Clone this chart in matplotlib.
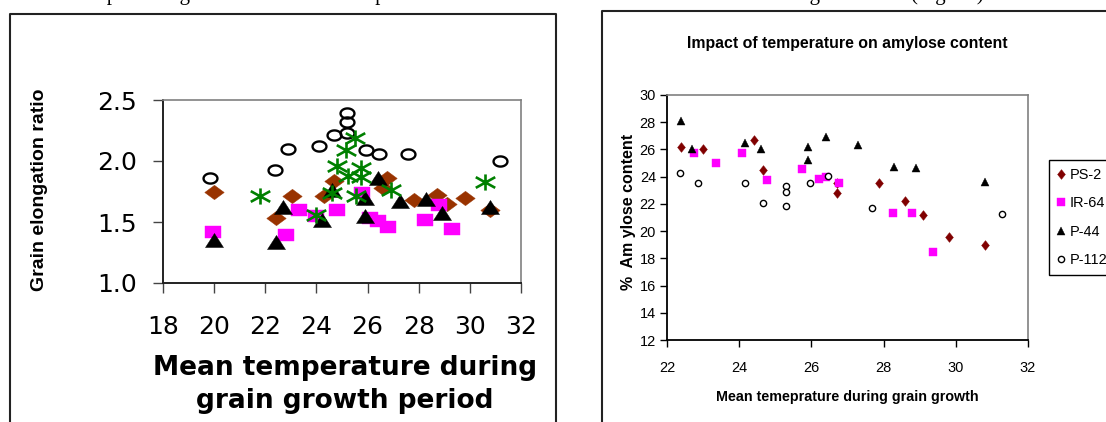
import numpy as np
import matplotlib
matplotlib.use("Agg")
import matplotlib.pyplot as plt
from matplotlib.path import Path
from matplotlib.lines import Line2D
from matplotlib import font_manager

# ---------------- data: left chart (grain elongation ratio) ----------------
ps2_t = [19.99, 22.4, 23.05, 24.3, 24.7, 26.6, 26.77, 27.8, 28.7, 29.1, 29.8, 30.8]
ps2_r = [1.75, 1.53, 1.71, 1.71, 1.84, 1.78, 1.86, 1.68, 1.72, 1.65, 1.70, 1.60]
ir64_t = [19.95, 22.8, 23.3, 24.0, 24.8, 25.8, 26.1, 26.4, 26.8, 28.25, 28.8, 29.3]
ir64_r = [1.42, 1.39, 1.60, 1.55, 1.60, 1.74, 1.53, 1.51, 1.46, 1.52, 1.64, 1.44]
p44_t = [20.0, 22.4, 22.7, 24.2, 24.6, 25.9, 25.9, 26.4, 27.25, 28.3, 28.9, 30.8]
p44_r = [1.35, 1.34, 1.62, 1.52, 1.76, 1.70, 1.55, 1.86, 1.67, 1.69, 1.57, 1.62]
p1121_t = [19.83, 22.37, 22.9, 24.1, 24.67, 25.2, 25.2, 25.2, 25.95, 26.46, 27.6, 31.18]
p1121_r = [1.86, 1.93, 2.10, 2.12, 2.21, 2.39, 2.32, 2.23, 2.09, 2.06, 2.06, 2.00]
star_t = [21.8, 24.0, 24.6, 24.8, 25.15, 25.5, 25.25, 25.75, 25.75, 25.55, 26.9, 30.6]
star_r = [1.71, 1.56, 1.74, 1.96, 2.09, 2.19, 1.88, 1.94, 1.87, 1.71, 1.76, 1.83]

left_xticks = [18, 20, 22, 24, 26, 28, 30, 32]
left_yticks = [1.0, 1.5, 2.0, 2.5]
left_ytick_labels = ["1.0", "1.5", "2.0", "2.5"]

# ---------------- data: right chart (amylose content) ----------------
r_ps2_t = [22.39, 23.0, 24.4, 24.66, 26.7, 26.7, 27.87, 28.6, 29.1, 29.8, 30.8]
r_ps2_a = [26.2, 26.0, 26.7, 24.5, 23.5, 22.8, 23.5, 22.2, 21.2, 19.6, 19.0]
r_ir64_t = [22.75, 23.36, 24.08, 24.77, 25.75, 26.2, 26.4, 26.77, 28.27, 28.8, 29.38]
r_ir64_a = [25.75, 25.0, 25.75, 23.75, 24.55, 23.85, 24.0, 23.5, 21.35, 21.3, 18.45]
r_p44_t = [22.39, 22.7, 24.16, 24.6, 25.9, 25.9, 26.4, 27.3, 28.3, 28.9, 30.8]
r_p44_a = [28.1, 26.0, 26.45, 26.0, 26.2, 25.2, 26.9, 26.3, 24.7, 24.6, 23.6]
r_p1121_t = [22.36, 22.86, 24.16, 24.66, 25.3, 25.3, 25.3, 25.96, 26.46, 27.68, 31.28]
r_p1121_a = [24.25, 23.55, 23.55, 22.05, 23.35, 22.85, 21.85, 23.55, 24.05, 21.7, 21.25]
legend_labels = ["PS-2", "IR-64", "P-44", "P-1121"]

right_xticks = [22, 24, 26, 28, 30, 32]
right_yticks = [12, 14, 16, 18, 20, 22, 24, 26, 28, 30]

# ---------------- fonts ----------------
names = {f.name for f in font_manager.fontManager.ttflist}
NARROW = "Liberation Sans Narrow" in names
if NARROW:
    nfam = ["Liberation Sans Narrow", "DejaVu Sans"]
    k_title, k_tick, k_xl, k_yl = 1.0, 1.0, 1.0, 1.0
else:
    nfam = ["Liberation Sans", "DejaVu Sans"]
    k_title, k_tick, k_xl, k_yl = 0.82, 0.87, 0.82, 0.92

W, H = 1106, 422
fig = plt.figure(figsize=(W / 100, H / 100), dpi=100)


def fx(px):
    return px / W


def fy(py):
    return 1 - py / H


# ---------------- custom markers (wide, like the stretched scan) ----------------
diamond_L = Path([(-1, 0), (0, 0.74), (1, 0), (0, -0.74), (-1, 0)], closed=True)
rect_L = Path([(-1, -0.75), (1, -0.75), (1, 0.75), (-1, 0.75), (-1, -0.75)], closed=True)
tri_L = Path([(-1, -0.78), (1, -0.78), (0, 0.78), (-1, -0.78)], closed=True)
_th = np.linspace(0, 2 * np.pi, 61)
ell_L = Path(np.column_stack([np.cos(_th), 0.73 * np.sin(_th)]), closed=True)
star_L = Path([(0, -0.83), (0, 0.83), (-1, -0.55), (1, 0.55), (-1, 0.55), (1, -0.55)],
              [Path.MOVETO, Path.LINETO, Path.MOVETO, Path.LINETO, Path.MOVETO, Path.LINETO])
diamond_R = Path([(-0.8, 0), (0, 1), (0.8, 0), (0, -1), (-0.8, 0)], closed=True)

# ---------------- left chart ----------------
axL = fig.add_axes([fx(163), fy(283), (521 - 163) / W, (283 - 100) / H])
axL.plot(ps2_t, ps2_r, ls="none", marker=diamond_L, ms=14, mfc="#993300", mec="#993300", mew=0.3)
axL.plot(ir64_t, ir64_r, ls="none", marker=rect_L, ms=11.5, mfc="#FF00FF", mec="#FF00FF", mew=0.3)
axL.plot(p44_t, p44_r, ls="none", marker=tri_L, ms=13, mfc="black", mec="black", mew=0.3)
axL.plot(p1121_t, p1121_r, ls="none", marker=ell_L, ms=10, mfc="none", mec="black", mew=1.7)
axL.plot(star_t, star_r, ls="none", marker=star_L, ms=14, mfc="none", mec="#008000", mew=1.9)
axL.set_xlim(18, 32)
axL.set_ylim(1.0, 2.5)
axL.set_xticks(left_xticks)
axL.set_yticks(left_yticks)
axL.set_yticklabels(left_ytick_labels)
for s in ("top", "right"):
    axL.spines[s].set_color("#808080")
    axL.spines[s].set_linewidth(1.2)
for s in ("left", "bottom"):
    axL.spines[s].set_color("#222222")
    axL.spines[s].set_linewidth(1.4)
axL.tick_params(axis="both", direction="out", length=7, width=1, color="#444444", labelsize=18)
axL.tick_params(axis="y", pad=12)
axL.tick_params(axis="x", pad=16)
for t in axL.get_xticklabels() + axL.get_yticklabels():
    t.set_family("DejaVu Sans")
axL.set_xlabel("Mean temperature during\ngrain growth period", fontsize=19, fontweight="bold",
               family="DejaVu Sans", linespacing=1.32)
axL.xaxis.set_label_coords(0.508, -0.555)
axL.xaxis.label.set_va("center")
axL.set_ylabel("Grain elongation ratio", fontsize=17 if NARROW else 14, fontweight="bold", family=nfam)
axL.yaxis.set_label_coords(-0.346, 0.508)
axL.yaxis.label.set_va("center")

# ---------------- right chart ----------------
axR = fig.add_axes([fx(667), fy(340), (1028 - 667) / W, (340 - 95) / H])
h1, = axR.plot(r_ps2_t, r_ps2_a, ls="none", marker=diamond_R, ms=7, mfc="#800000", mec="#800000", mew=0.3)
h2, = axR.plot(r_ir64_t, r_ir64_a, ls="none", marker="s", ms=5.2, mfc="#FF00FF", mec="#FF00FF", mew=0.3)
h3, = axR.plot(r_p44_t, r_p44_a, ls="none", marker="^", ms=6.3, mfc="black", mec="black", mew=0.3)
h4, = axR.plot(r_p1121_t, r_p1121_a, ls="none", marker="o", ms=4.5, mfc="white", mec="black", mew=1.0)
axR.set_xlim(22, 32)
axR.set_ylim(12, 30)
axR.set_xticks(right_xticks)
axR.set_yticks(right_yticks)
for s in ("top", "right"):
    axR.spines[s].set_color("#808080")
    axR.spines[s].set_linewidth(1.2)
for s in ("left", "bottom"):
    axR.spines[s].set_color("black")
    axR.spines[s].set_linewidth(1.3)
axR.tick_params(axis="both", direction="out", length=5, width=1, color="black", labelsize=12 * k_tick)
axR.tick_params(axis="y", pad=3)
axR.tick_params(axis="x", pad=10)
for t in axR.get_xticklabels() + axR.get_yticklabels():
    t.set_family(nfam)
axR.set_title("Impact of temperature on amylose content", fontsize=14 * k_title, fontweight="bold",
              family=nfam, y=1.212, va="center", pad=0)
axR.set_xlabel("Mean temeprature during grain growth", fontsize=12.5 * k_xl, fontweight="bold", family=nfam)
axR.xaxis.set_label_coords(0.499, -0.233)
axR.xaxis.label.set_va("center")
axR.set_ylabel("%  Am ylose content", fontsize=12.5 * k_yl, fontweight="bold", family=nfam)
axR.yaxis.set_label_coords(-0.108, 0.522)
axR.yaxis.label.set_va("center")

leg = axR.legend([h1, h2, h3, h4], legend_labels, loc="upper left",
                 bbox_to_anchor=(fx(1049), fy(160)), bbox_transform=fig.transFigure,
                 frameon=True, fancybox=False, edgecolor="black", framealpha=1,
                 borderaxespad=0, borderpad=0.55, handlelength=0.6, handletextpad=0.25,
                 labelspacing=1.0, prop={"family": nfam, "size": 12 * k_tick})
leg.get_frame().set_linewidth(1.0)

# ---------------- outer chart boxes ----------------
box_kw = dict(color="#222222", lw=1.5, transform=fig.transFigure)
fig.add_artist(Line2D([fx(10), fx(10), fx(556), fx(556)], [fy(H + 2), fy(14), fy(14), fy(H + 2)], **box_kw))
fig.add_artist(Line2D([fx(602), fx(602), fx(W + 2)], [fy(H + 2), fy(11), fy(11)], **box_kw))

# ---------------- cut-off caption line at the very top (only descenders show) ----------------
fig.text(fx(9), fy(5), "Results are plotted against the mean air temperature",
         family="Liberation Serif", fontsize=15, va="bottom", ha="left")
fig.text(fx(984), fy(5), "and as shown in the chart for the growth rate (Fig. 1b)",
         family="Liberation Serif", fontsize=15, va="bottom", ha="right")

fig.savefig("out.png", dpi=100)
